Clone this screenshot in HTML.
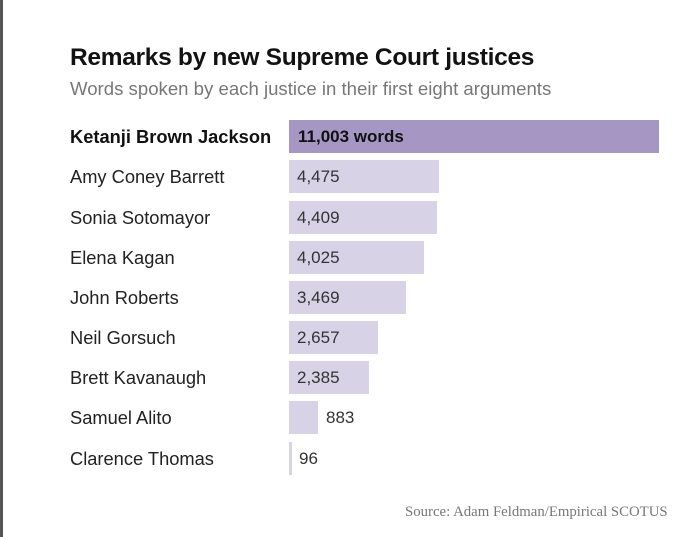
<!DOCTYPE html>
<html><head><style>
body{margin:0;width:700px;height:537px;background:#fff;position:relative;overflow:hidden;font-family:"Liberation Sans",sans-serif}
.edge{position:absolute;left:0;top:0;width:3px;height:537px;background:#555}
.t{position:absolute;left:70px;top:44px;font-size:24.5px;font-weight:bold;color:#121212;letter-spacing:-0.3px}
.s{position:absolute;left:70px;top:78px;font-size:18.6px;color:#777}
.l{position:absolute;left:70px;font-size:18.3px;color:#222;line-height:34px}
.b{position:absolute;left:289px;height:33px;background:#d8d2e6}
.v{position:absolute;font-size:17px;color:#333;line-height:34px}
.src{position:absolute;left:405px;top:504px;font-family:"Liberation Serif",serif;font-size:14.8px;color:#777}
</style></head><body>
<div class="edge"></div>
<div class="t">Remarks by new Supreme Court justices</div>
<div class="s">Words spoken by each justice in their first eight arguments</div>

<div class="l" style="top:120px;font-weight:bold;color:#111">Ketanji Brown Jackson</div>
<div class="b" style="top:120px;width:370px;background:#a596c4"></div>
<div class="v" style="top:120px;left:298px;font-weight:bold;color:#111">11,003 words</div>

<div class="l" style="top:160px">Amy Coney Barrett</div>
<div class="b" style="top:160px;width:150px"></div>
<div class="v" style="top:160px;left:297px">4,475</div>

<div class="l" style="top:201px">Sonia Sotomayor</div>
<div class="b" style="top:201px;width:148px"></div>
<div class="v" style="top:201px;left:297px">4,409</div>

<div class="l" style="top:241px">Elena Kagan</div>
<div class="b" style="top:241px;width:135px"></div>
<div class="v" style="top:241px;left:297px">4,025</div>

<div class="l" style="top:281px">John Roberts</div>
<div class="b" style="top:281px;width:117px"></div>
<div class="v" style="top:281px;left:297px">3,469</div>

<div class="l" style="top:321px">Neil Gorsuch</div>
<div class="b" style="top:321px;width:89px"></div>
<div class="v" style="top:321px;left:297px">2,657</div>

<div class="l" style="top:361px">Brett Kavanaugh</div>
<div class="b" style="top:361px;width:80px"></div>
<div class="v" style="top:361px;left:297px">2,385</div>

<div class="l" style="top:401px">Samuel Alito</div>
<div class="b" style="top:401px;width:29px"></div>
<div class="v" style="top:401px;left:326px">883</div>

<div class="l" style="top:442px">Clarence Thomas</div>
<div class="b" style="top:442px;width:3px"></div>
<div class="v" style="top:442px;left:299px">96</div>

<div class="src">Source: Adam Feldman/Empirical SCOTUS</div>
</body></html>
